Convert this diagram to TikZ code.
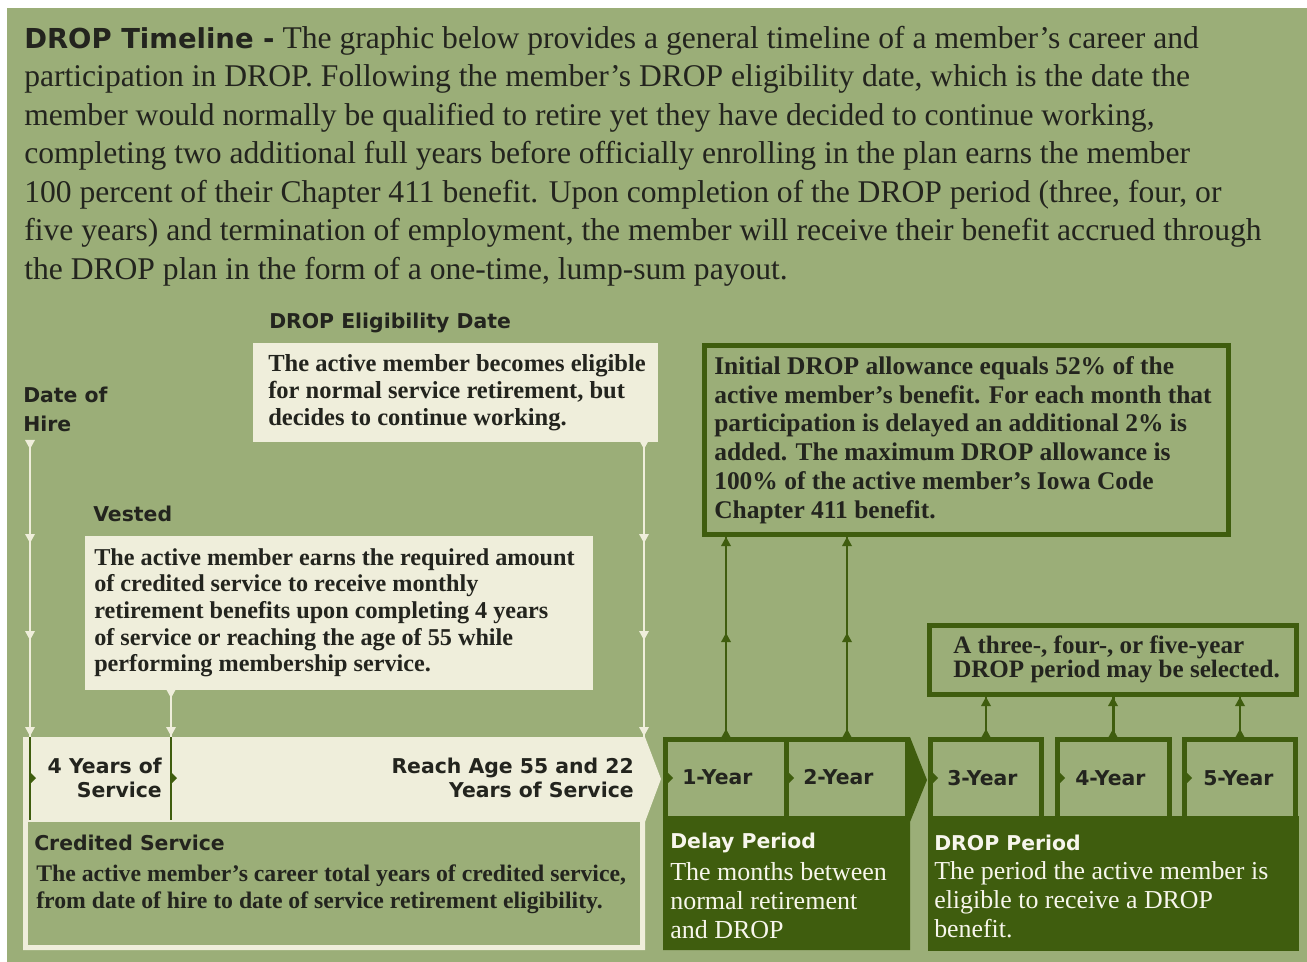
\documentclass[tikz,border=0pt]{standalone}
\usepackage{fontspec}
\setmainfont{Liberation Serif}
\setsansfont{DejaVu Sans}
\usetikzlibrary{fit}
\definecolor{bggreen}{RGB}{155,174,120}
\definecolor{cream}{RGB}{239,238,219}
\definecolor{dkgreen}{RGB}{63,93,14}
\definecolor{ink}{RGB}{35,36,30}
\definecolor{paper}{RGB}{247,246,236}
\tikzset{
  dtri/.pic={\fill (-5,-9) -- (5,-9) -- (0,0) -- cycle;},
  utri/.pic={\fill (-5,9) -- (5,9) -- (0,0) -- cycle;},
  rtri/.pic={\fill (0,-6) -- (6,0) -- (0,6) -- cycle;},
  box/.style={inner sep=0pt, outer sep=0pt},
  creamline/.style={draw=cream, line width=1.9pt},
  darkline/.style={draw=dkgreen, line width=1.9pt},
  lbl/.style={inner sep=0pt, text=ink, font=\sffamily\bfseries\fontsize{15.3}{18}\selectfont},
  wlbl/.style={lbl, text=paper},
  para/.style={inner sep=0pt, anchor=north west, align=left, text=ink},
  yearbox/.style={box, fill=bggreen, draw=dkgreen, line width=3.75pt}
}
\begin{document}
\begin{tikzpicture}[x=0.75pt,y=-0.75pt]
\useasboundingbox (0,0) rectangle (1307,962);
\fill[white] (0,0) rectangle (1307,962);
\fill[bggreen] (7,8) rectangle (1307,962);

% intro
\node[para, font=\fontsize{23.7}{28.9}\selectfont] (intro) at (24,21) {\strut{\sffamily\bfseries\fontsize{20.6}{28.9}\selectfont DROP Timeline -} The graphic below provides a general timeline of a member’s career and\\
participation in DROP. Following the member’s DROP eligibility date, which is the date the\\
member would normally be qualified to retire yet they have decided to continue working,\\
completing two additional full years before officially enrolling in the plan earns the member\\
100 percent of their Chapter 411 benefit. Upon completion of the DROP period (three, four, or\\
five years) and termination of employment, the member will receive their benefit accrued through\\
the DROP plan in the form of a one-time, lump-sum payout.};

% eligibility
\node[lbl, anchor=base west] (eliglbl) at (269,329) {DROP Eligibility Date};
\node[box, fill=cream, fit={(253,343)(658,442)}] (eligbox) {};
\pic[cream] at (644,449) {dtri};
\node[para, font=\bfseries\fontsize{18.4}{20.25}\selectfont] (eligtxt) at (268,352) {\strut The active member becomes eligible\\ for normal service retirement, but\\ decides to continue working.};

% date of hire
\node[lbl, para, font=\sffamily\bfseries\fontsize{15.3}{21.75}\selectfont] (hire) at (23,381.7) {\strut Date of\\ Hire};

% vested
\node[lbl, anchor=base west] (vestlbl) at (93,522) {Vested};
\node[box, fill=cream, fit={(85,536)(593,690)}] (vestbox) {};
\pic[cream] at (171,698) {dtri};
\node[para, font=\bfseries\fontsize{18.15}{20}\selectfont] (vesttxt) at (94,546.3) {\strut The active member earns the required amount\\ of credited service to receive monthly\\ retirement benefits upon completing 4 years\\ of service or reaching the age of 55 while\\ performing membership service.};

% credited service band and box
\fill[cream] (23,737) -- (645,737) -- (661,779) -- (645,822) -- (645,950) -- (23,950) -- cycle;
\node[box, fit={(23,737)(645,822)}] (band) {};
\node[box, fill=bggreen, fit={(28,822)(640,945)}] (credbox) {};
\draw[dkgreen, line width=1.5pt] (30,737) -- (30,820);
\draw[dkgreen, line width=1.5pt] (171,737) -- (171,820);
\pic[dkgreen] at (30,778) {rtri};
\pic[dkgreen] at (171,778) {rtri};
\node[lbl, para, align=right, anchor=north east] (four) at (162,756.2) {\strut 4 Years of\\ Service};
\node[lbl, para, align=right, anchor=north east] (reach) at (634,756.2) {\strut Reach Age 55 and 22\\ Years of Service};
\node[lbl, anchor=base west] (credlbl) at (34,850) {Credited Service};
\node[para, font=\bfseries\fontsize{17.8}{20.25}\selectfont] (credtxt) at (36,862) {\strut The active member’s career total years of credited service,\\ from date of hire to date of service retirement eligibility.};

% cream timeline connectors
\coordinate (hireTop) at (30,442);
\coordinate (eligPt) at (644,442);
\coordinate (vestPt) at (171,690);
\draw[creamline] (hireTop) -- (hireTop |- band.north);
\draw[creamline] (eligPt) -- (eligPt |- band.north);
\draw[creamline] (vestPt) -- (vestPt |- band.north);
\foreach \yy in {449,543,640,736} {\pic[cream] at (30,\yy) {dtri};}
\foreach \yy in {543,640,736} {\pic[cream] at (644,\yy) {dtri};}
\pic[cream] at (171,736) {dtri};

% delay period
\fill[dkgreen] (663,737) -- (910,737) -- (927,780) -- (910,822) -- (910,950) -- (663,950) -- cycle;
\node[box, fit={(663,737)(910,950)}] (delay) {};
\node[box, fill=bggreen, fit={(668,742)(784,816)}] (y1) {};
\node[box, fill=bggreen, fit={(789,742)(905,816)}] (y2) {};
\pic[dkgreen] at (667,778) {rtri};
\pic[dkgreen] at (788,778) {rtri};
\node[lbl, anchor=base west] (y1lbl) at (682,784) {1-Year};
\node[lbl, anchor=base west] (y2lbl) at (803,784) {2-Year};
\node[wlbl, anchor=base west] (delaylbl) at (670,848) {Delay Period};
\node[para, text=paper, font=\fontsize{19.5}{21.7}\selectfont] (delaytxt) at (670,860) {\strut The months between\\ normal retirement\\ and DROP};

% initial DROP allowance box
\node[box, draw=dkgreen, line width=3.4pt, fit={(704.5,345.5)(1228.5,534.5)}] (init) {};
\node[para, font=\bfseries\fontsize{19.1}{21.6}\selectfont] (inittxt) at (714,353.8) {\strut Initial DROP allowance equals 52\% of the\\ active member’s benefit. For each month that\\ participation is delayed an additional 2\% is\\ added. The maximum DROP allowance is\\ 100\% of the active member’s Iowa Code\\ Chapter 411 benefit.};
\draw[darkline] (y1.north) -- (y1.north |- init.south);
\draw[darkline] (y2.north) -- (y2.north |- init.south);
\foreach \xx in {726,847} {
  \pic[dkgreen] at (\xx,537) {utri};
  \pic[dkgreen] at (\xx,633) {utri};
  \pic[dkgreen] at (\xx,729) {utri};
}

% DROP period
\fill[dkgreen] (928,816) rectangle (1299,951);
\node[box, fit={(928,737)(1299,951)}] (dropper) {};
\node[yearbox, fit={(930.5,739.5)(1041.5,819.5)}] (y3) {};
\node[yearbox, fit={(1057.5,739.5)(1169.5,819.5)}] (y4) {};
\node[yearbox, fit={(1184.5,739.5)(1295.5,819.5)}] (y5) {};
\fill[dkgreen] (928,816) rectangle (1299,822);
\pic[dkgreen] at (932,778) {rtri};
\pic[dkgreen] at (1059,778) {rtri};
\pic[dkgreen] at (1186,778) {rtri};
\node[lbl, anchor=base west] (y3lbl) at (947,785) {3-Year};
\node[lbl, anchor=base west] (y4lbl) at (1075,785) {4-Year};
\node[lbl, anchor=base west] (y5lbl) at (1203,785) {5-Year};
\node[wlbl, anchor=base west] (droplbl) at (934,850) {DROP Period};
\node[para, text=paper, font=\fontsize{19.4}{21.6}\selectfont] (droptxt) at (934,859) {\strut The period the active member is\\ eligible to receive a DROP\\ benefit.};

% selection box
\node[box, draw=dkgreen, line width=3.4pt, fit={(929.5,625.5)(1296.5,694.5)}] (sel) {};
\node[para, font=\bfseries\fontsize{18.8}{18}\selectfont] (seltxt) at (953,635.7) {A three-, four-, or five-year\\ DROP period may be selected.};
\draw[darkline] (y3.north) -- (y3.north |- sel.south);
\draw[darkline] (y4.north) -- (y4.north |- sel.south);
\draw[darkline] (y5.north) -- (y5.north |- sel.south);
\foreach \xx in {986,1113,1240} {
  \pic[dkgreen] at (\xx,697) {utri};
  \pic[dkgreen] at (\xx,729) {utri};
}
\end{tikzpicture}
\end{document}
